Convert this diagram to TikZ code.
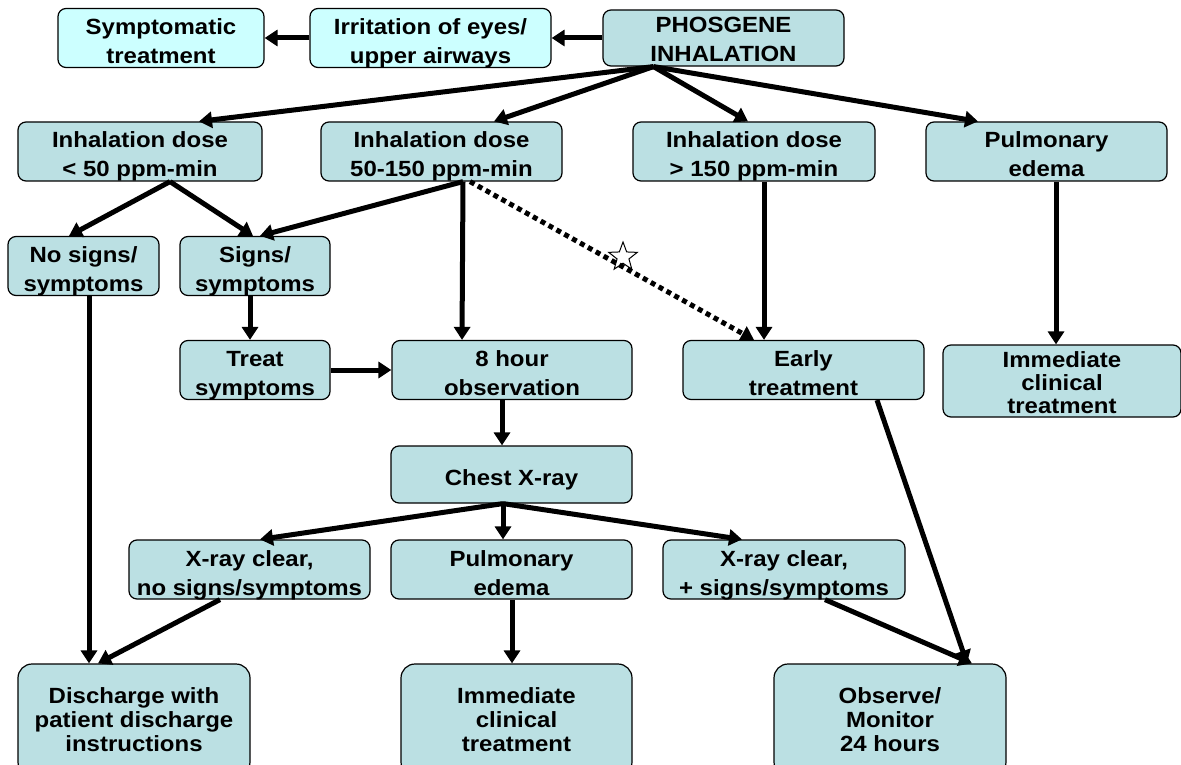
\documentclass[tikz,border=0pt]{standalone}
\usepackage{fontspec}
\setmainfont[FakeStretch=1.09]{Liberation Sans}
\usetikzlibrary{positioning, arrows.meta, shapes.geometric}
\definecolor{tealbox}{RGB}{187,224,227}
\definecolor{cyanbox}{RGB}{204,255,255}

\begin{document}
\begin{tikzpicture}[x=1pt, y=-1pt, >={Triangle[length=13pt,width=16pt]},
    box/.style = {draw, line width=1.2pt, rounded corners=8pt, fill=tealbox, align=center,
                  inner sep=0pt, font=\fontsize{22}{29}\selectfont\bfseries,
                  text height=55pt, text depth=4pt},
    pale/.style = {box, fill=cyanbox},
    tall/.style = {box, font=\fontsize{22}{23}\selectfont\bfseries, text height=68pt},
    big/.style = {box, rounded corners=14pt, font=\fontsize{22}{24}\selectfont\bfseries,
                  text height=66pt},
    arr/.style = {->, line width=5pt},
    dotarr/.style = {->, line width=5pt, dash pattern=on 5pt off 4pt}]
    \useasboundingbox (0,0) rectangle (1181,765);
            % top row
            \node[pale, minimum width=206pt, minimum height=56pt] (sym) at (161,38) {Symptomatic\\treatment};
            \node[pale, minimum width=241pt, minimum height=56pt] (irr) at (430.5,38) {Irritation of eyes/\\upper airways};
            \node[box, minimum width=241pt, minimum height=56pt, text height=52pt] (phos) at (723.5,38) {PHOSGENE\\INHALATION};
            % doses
            \node[box, minimum width=244pt, minimum height=57pt] (dlow) at (140,151.5) {Inhalation dose\\< 50 ppm-min};
            \node[box, minimum width=241pt, minimum height=57pt] (dmid) at (441.5,151.5) {Inhalation dose\\50-150 ppm-min};
            \node[box, minimum width=242pt, minimum height=57pt] (dhigh) at (754,151.5) {Inhalation dose\\> 150 ppm-min};
            \node[box, minimum width=241pt, minimum height=57pt] (edema1) at (1046.5,151.5) {Pulmonary\\edema};
            % signs
            \node[box, minimum width=151pt, minimum height=58pt] (nosigns) at (83.5,266) {No signs/\\symptoms};
            \node[box, minimum width=150pt, minimum height=58pt] (signs) at (255,266) {Signs/\\symptoms};
            \node[box, minimum width=150pt, minimum height=56pt] (treat) at (255,370) {Treat\\symptoms};
            \node[box, minimum width=240pt, minimum height=56pt] (obs8) at (512,370) {8 hour\\observation};
            \node[box, minimum width=241pt, minimum height=56pt] (early) at (803.5,370) {Early\\treatment};
            \node[tall, minimum width=238pt, minimum height=72pt] (imm1) at (1062,381) {Immediate\\clinical\\treatment};
            % x-ray
            \node[box, minimum width=241pt, minimum height=57pt, text height=26pt] (xray) at (511.5,474.5) {Chest X-ray};
            \node[box, minimum width=241pt, minimum height=57pt] (clearno) at (249.5,569.5) {X-ray clear,\\no signs/symptoms};
            \node[box, minimum width=241pt, minimum height=57pt] (edema2) at (511.5,569.5) {Pulmonary\\edema};
            \node[box, minimum width=242pt, minimum height=57pt] (clearplus) at (784,569.5) {X-ray clear,\\+ signs/symptoms};
            % outcomes
            \node[big, minimum width=232pt, minimum height=112pt] (discharge) at (134,720) {Discharge with\\patient discharge\\instructions};
            \node[big, minimum width=231pt, minimum height=112pt] (imm2) at (516.5,720) {Immediate\\clinical\\treatment};
            \node[big, minimum width=232pt, minimum height=112pt] (monitor) at (890,720) {Observe/\\Monitor\\24 hours};
            \node[star, star points=5, star point ratio=2.4, draw, line width=1pt, minimum size=30pt, inner sep=0pt] (mark) at (623,257) {};

            \draw[arr] (phos) -- (irr);
            \draw[arr] (irr) -- (sym);
            \draw[arr] ([xshift=-70pt]phos.south) -- ([xshift=59pt]dlow.north);
            \draw[arr] ([xshift=-70pt]phos.south) -- ([xshift=52.5pt]dmid.north);
            \draw[arr] ([xshift=-70pt]phos.south) -- ([xshift=-6pt]dhigh.north);
            \draw[arr] ([xshift=-70pt]phos.south) -- ([xshift=-68.5pt]edema1.north);
            \draw[arr] ([xshift=30pt]dlow.south) -- ([xshift=-14.5pt]nosigns.north);
            \draw[arr] ([xshift=30pt]dlow.south) -- ([xshift=-2pt]signs.north);
            \draw[arr] ([xshift=21.5pt]dmid.south) -- ([xshift=5pt]signs.north);
            \draw[arr] ([xshift=21.5pt]dmid.south) -- ([xshift=-50pt]obs8.north);
            \draw[dotarr] ([xshift=28.5pt]dmid.south) -- ([xshift=-49.5pt]early.north);
            \draw[arr] ([xshift=10pt]dhigh.south) -- ([xshift=-39.5pt]early.north);
            \draw[arr] ([xshift=9.5pt]edema1.south) -- ([xshift=-6pt]imm1.north);
            \draw[arr] ([xshift=-5pt]signs.south) -- ([xshift=-5pt]treat.north);
            \draw[arr] (treat) -- (obs8);
            \draw[arr] ([xshift=-10pt]obs8.south) -- ([xshift=-9.5pt]xray.north);
            \draw[arr] ([xshift=-8.5pt]xray.south) -- ([xshift=10.5pt]clearno.north);
            \draw[arr] ([xshift=-8.5pt]xray.south) -- ([xshift=-8.5pt]edema2.north);
            \draw[arr] ([xshift=-8.5pt]xray.south) -- ([xshift=-42pt]clearplus.north);
            \draw[arr] ([xshift=0.5pt]edema2.south) -- ([xshift=-4.5pt]imm2.north);
            \draw[arr] ([xshift=5.5pt]nosigns.south) -- ([xshift=-45pt]discharge.north);
            \draw[arr] ([xshift=-29.5pt]clearno.south) -- ([xshift=-36pt]discharge.north);
            \draw[arr] ([xshift=41pt]clearplus.south) -- ([xshift=82pt]monitor.north);
            \draw[arr] ([xshift=73.5pt]early.south) -- ([xshift=77pt]monitor.north);
\end{tikzpicture}
\end{document}
